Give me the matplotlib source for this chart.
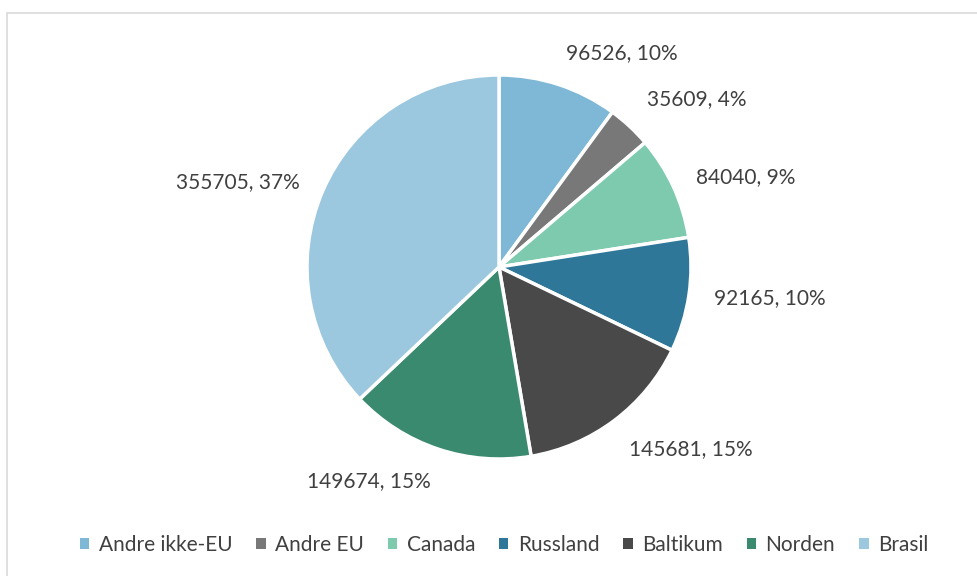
import numpy as np
import matplotlib
matplotlib.use('Agg')
import matplotlib.pyplot as plt
from matplotlib.patches import Rectangle, Patch

categories = ['Andre ikke-EU', 'Andre EU', 'Canada', 'Russland', 'Baltikum', 'Norden', 'Brasil']
values = [96526, 35609, 84040, 92165, 145681, 149674, 355705]
percents = ['10%', '4%', '9%', '10%', '15%', '15%', '37%']
colors = ['#7FB8D6', '#787878', '#7DCAAE', '#2E7799', '#494949', '#3A8A70', '#9BC8DF']

W, H = 977, 576
cx, cy, R = 499, 267, 192  # pie centre and radius in pixels

plt.rcParams['font.family'] = ['Lato', 'DejaVu Sans']
fig = plt.figure(figsize=(W / 100, H / 100), dpi=100)
ax = fig.add_axes([0, 0, 1, 1])

# outer chart frame
fig.patches.append(Rectangle((7 / W, -0.1), 1.2, (H - 13) / H + 0.1, transform=fig.transFigure,
                             fill=False, edgecolor='#D9D9D9', linewidth=1.2))

wedges, _ = ax.pie(values, colors=colors, startangle=90, counterclock=False, radius=1,
                   wedgeprops=dict(edgecolor='white', linewidth=2.5))

ax.set_xlim(-cx / R, (W - cx) / R)
ax.set_ylim(-(H - cy) / R, cy / R)
ax.set_aspect('equal')
ax.axis('off')

for w, v, p in zip(wedges, values, percents):
    ang = np.deg2rad((w.theta1 + w.theta2) / 2)
    x, y = np.cos(ang), np.sin(ang)
    ha = 'left' if x > 0 else 'right'
    if y > 0.7:
        va = 'bottom'
    elif y < -0.7:
        va = 'top'
    else:
        va = 'center'
    ax.text(1.13 * x, 1.12 * y, f'{v}, {p}', ha=ha, va=va, fontsize=15, color='#404040')

handles = [Patch(facecolor=c, edgecolor='none') for c in colors]
leg = ax.legend(handles, categories, loc='center', bbox_to_anchor=(0.516, 1 - 545 / H),
                bbox_transform=fig.transFigure, ncol=7, frameon=False, fontsize=15,
                handlelength=0.45, handleheight=0.45, handletextpad=0.45, columnspacing=1.15)
for t in leg.get_texts():
    t.set_color('#404040')

plt.savefig('out.png', dpi=100)
